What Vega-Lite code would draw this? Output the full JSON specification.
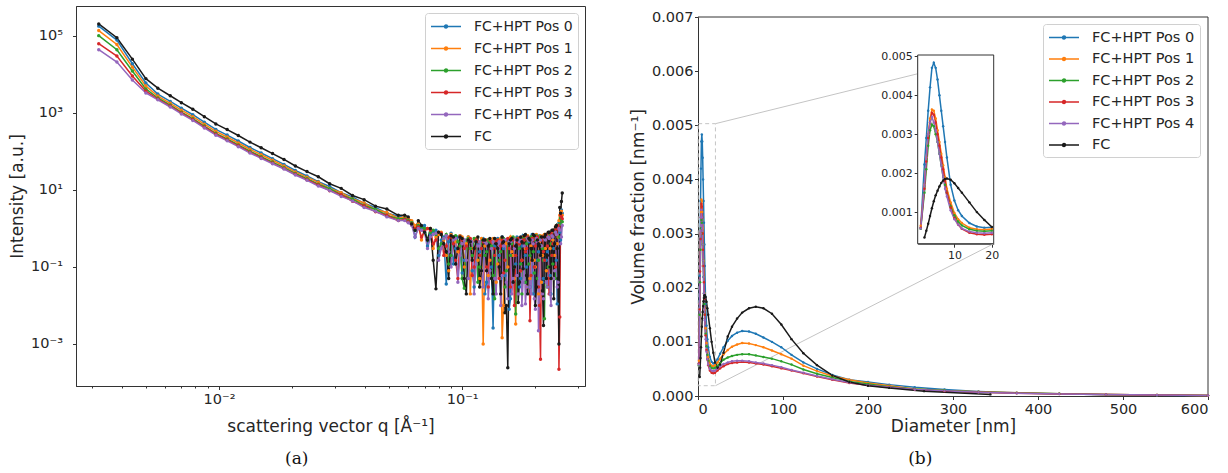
{
"$schema":"https://vega.github.io/schema/vega-lite/v6.json",
"padding":{"left":8,"top":5,"right":5,"bottom":5},
"config":{"font":"DejaVu Sans","view":{"stroke":"#333","strokeWidth":1},
"axis":{"grid":false,"domainColor":"#333","tickColor":"#333","labelColor":"#262626","titleColor":"#262626","labelFontSize":14.5,"titleFontSize":17,"titleFontWeight":"normal","tickSize":3.5,"labelPadding":3},
"title":{"font":"DejaVu Serif","fontSize":17,"fontWeight":"normal","color":"#111"}},
"datasets":{
"saxs":[
{"s":"P0","q":0.0032,"I":180000},{"s":"P0","q":0.0038,"I":78000},{"s":"P0","q":0.0044,"I":19000},{"s":"P0","q":0.005,"I":6000},{"s":"P0","q":0.0056,"I":3100},{"s":"P0","q":0.0063,"I":2000},{"s":"P0","q":0.007,"I":1330},{"s":"P0","q":0.0078,"I":900},{"s":"P0","q":0.0087,"I":576},{"s":"P0","q":0.0097,"I":375},{"s":"P0","q":0.0108,"I":266},{"s":"P0","q":0.012,"I":187},{"s":"P0","q":0.0134,"I":127},{"s":"P0","q":0.0149,"I":91},{"s":"P0","q":0.0166,"I":65},{"s":"P0","q":0.0185,"I":46},{"s":"P0","q":0.0206,"I":32},{"s":"P0","q":0.023,"I":23},{"s":"P0","q":0.0256,"I":16.5},{"s":"P0","q":0.0285,"I":12.3},{"s":"P0","q":0.0318,"I":8.5},{"s":"P0","q":0.0354,"I":6.6},{"s":"P0","q":0.0395,"I":4.5},{"s":"P0","q":0.044,"I":3.5},{"s":"P0","q":0.049,"I":2.5},{"s":"P0","q":0.0546,"I":2.1},
{"s":"P0","q":0.058,"I":1.9},{"s":"P0","q":0.062,"I":1.5},{"s":"P0","q":0.066,"I":1.1},{"s":"P0","q":0.07,"I":1.2},{"s":"P0","q":0.074,"I":0.7},{"s":"P0","q":0.078,"I":0.9},{"s":"P0","q":0.082,"I":0.5},{"s":"P0","q":0.086,"I":0.036},{"s":"P0","q":0.09,"I":0.75},{"s":"P0","q":0.094,"I":0.3},{"s":"P0","q":0.098,"I":0.65},{"s":"P0","q":0.102,"I":0.15},{"s":"P0","q":0.106,"I":0.6},{"s":"P0","q":0.11,"I":0.08},{"s":"P0","q":0.114,"I":0.5},{"s":"P0","q":0.118,"I":0.25},{"s":"P0","q":0.122,"I":0.55},{"s":"P0","q":0.126,"I":0.04},{"s":"P0","q":0.13,"I":0.45},{"s":"P0","q":0.134,"I":0.0026},{"s":"P0","q":0.138,"I":0.5},{"s":"P0","q":0.142,"I":0.2},{"s":"P0","q":0.146,"I":0.6},{"s":"P0","q":0.15,"I":0.06},{"s":"P0","q":0.154,"I":0.4},{"s":"P0","q":0.158,"I":0.015},{"s":"P0","q":0.162,"I":0.55},{"s":"P0","q":0.166,"I":0.12},{"s":"P0","q":0.17,"I":0.5},{"s":"P0","q":0.174,"I":0.05},{"s":"P0","q":0.178,"I":0.65},{"s":"P0","q":0.182,"I":0.2},{"s":"P0","q":0.186,"I":0.6},{"s":"P0","q":0.19,"I":0.03},{"s":"P0","q":0.194,"I":0.7},{"s":"P0","q":0.198,"I":0.1},{"s":"P0","q":0.202,"I":0.55},{"s":"P0","q":0.206,"I":0.25},{"s":"P0","q":0.21,"I":0.6},{"s":"P0","q":0.214,"I":0.04},{"s":"P0","q":0.218,"I":0.7},{"s":"P0","q":0.222,"I":0.15},{"s":"P0","q":0.226,"I":0.75},{"s":"P0","q":0.23,"I":0.06},{"s":"P0","q":0.234,"I":0.8},{"s":"P0","q":0.238,"I":0.3},{"s":"P0","q":0.242,"I":1.0},{"s":"P0","q":0.246,"I":0.011},{"s":"P0","q":0.25,"I":1.4},{"s":"P0","q":0.254,"I":0.5},{"s":"P0","q":0.258,"I":2.5},
{"s":"P0","q":0.06,"I":1.7},{"s":"P0","q":0.064,"I":0.6},{"s":"P0","q":0.068,"I":1.0},{"s":"P0","q":0.072,"I":0.35},{"s":"P0","q":0.076,"I":0.85},{"s":"P0","q":0.08,"I":0.2},{"s":"P0","q":0.084,"I":0.6},{"s":"P0","q":0.088,"I":0.45},{"s":"P0","q":0.092,"I":0.12},{"s":"P0","q":0.096,"I":0.6},{"s":"P0","q":0.1,"I":0.07},{"s":"P0","q":0.104,"I":0.35},{"s":"P0","q":0.108,"I":0.5},{"s":"P0","q":0.112,"I":0.03},{"s":"P0","q":0.116,"I":0.4},{"s":"P0","q":0.12,"I":0.3},{"s":"P0","q":0.124,"I":0.02},{"s":"P0","q":0.128,"I":0.5},{"s":"P0","q":0.132,"I":0.1},{"s":"P0","q":0.136,"I":0.35},{"s":"P0","q":0.14,"I":0.55},{"s":"P0","q":0.144,"I":0.05},{"s":"P0","q":0.148,"I":0.3},{"s":"P0","q":0.152,"I":0.5},{"s":"P0","q":0.156,"I":0.008},{"s":"P0","q":0.16,"I":0.45},{"s":"P0","q":0.164,"I":0.2},{"s":"P0","q":0.168,"I":0.6},{"s":"P0","q":0.172,"I":0.03},{"s":"P0","q":0.176,"I":0.35},{"s":"P0","q":0.18,"I":0.55},{"s":"P0","q":0.184,"I":0.1},{"s":"P0","q":0.188,"I":0.45},{"s":"P0","q":0.192,"I":0.6},{"s":"P0","q":0.196,"I":0.02},{"s":"P0","q":0.2,"I":0.5},{"s":"P0","q":0.204,"I":0.15},{"s":"P0","q":0.208,"I":0.65},{"s":"P0","q":0.212,"I":0.35},{"s":"P0","q":0.216,"I":0.05},{"s":"P0","q":0.22,"I":0.6},{"s":"P0","q":0.224,"I":0.25},{"s":"P0","q":0.228,"I":0.7},{"s":"P0","q":0.232,"I":0.02},{"s":"P0","q":0.236,"I":0.5},{"s":"P0","q":0.24,"I":0.9},{"s":"P0","q":0.244,"I":0.15},{"s":"P0","q":0.248,"I":1.2},{"s":"P0","q":0.252,"I":0.8},{"s":"P0","q":0.256,"I":3.0},
{"s":"P1","q":0.0032,"I":138000},{"s":"P1","q":0.0038,"I":60000},{"s":"P1","q":0.0044,"I":15500},{"s":"P1","q":0.005,"I":5000},{"s":"P1","q":0.0056,"I":2750},{"s":"P1","q":0.0063,"I":1780},{"s":"P1","q":0.007,"I":1180},{"s":"P1","q":0.0078,"I":800},{"s":"P1","q":0.0087,"I":512},{"s":"P1","q":0.0097,"I":333},{"s":"P1","q":0.0108,"I":237},{"s":"P1","q":0.012,"I":166},{"s":"P1","q":0.0134,"I":114},{"s":"P1","q":0.0149,"I":82},{"s":"P1","q":0.0166,"I":59},{"s":"P1","q":0.0185,"I":42},{"s":"P1","q":0.0206,"I":29.5},{"s":"P1","q":0.023,"I":21.5},{"s":"P1","q":0.0256,"I":15.8},{"s":"P1","q":0.0285,"I":11},{"s":"P1","q":0.0318,"I":8.5},{"s":"P1","q":0.0354,"I":5.9},{"s":"P1","q":0.0395,"I":4.6},{"s":"P1","q":0.044,"I":3.1},{"s":"P1","q":0.049,"I":2.6},{"s":"P1","q":0.0546,"I":1.85},
{"s":"P1","q":0.058,"I":2.0},{"s":"P1","q":0.062,"I":1.6},{"s":"P1","q":0.066,"I":1.3},{"s":"P1","q":0.07,"I":0.9},{"s":"P1","q":0.074,"I":1.0},{"s":"P1","q":0.078,"I":0.6},{"s":"P1","q":0.082,"I":0.8},{"s":"P1","q":0.086,"I":0.2},{"s":"P1","q":0.09,"I":0.7},{"s":"P1","q":0.094,"I":0.45},{"s":"P1","q":0.098,"I":0.65},{"s":"P1","q":0.102,"I":0.1},{"s":"P1","q":0.106,"I":0.6},{"s":"P1","q":0.11,"I":0.3},{"s":"P1","q":0.114,"I":0.55},{"s":"P1","q":0.118,"I":0.05},{"s":"P1","q":0.122,"I":0.001},{"s":"P1","q":0.126,"I":0.5},{"s":"P1","q":0.13,"I":0.15},{"s":"P1","q":0.134,"I":0.55},{"s":"P1","q":0.138,"I":0.04},{"s":"P1","q":0.142,"I":0.5},{"s":"P1","q":0.146,"I":0.00145},{"s":"P1","q":0.15,"I":0.45},{"s":"P1","q":0.154,"I":0.1},{"s":"P1","q":0.158,"I":0.6},{"s":"P1","q":0.162,"I":0.2},{"s":"P1","q":0.166,"I":0.0033},{"s":"P1","q":0.17,"I":0.55},{"s":"P1","q":0.174,"I":0.08},{"s":"P1","q":0.178,"I":0.6},{"s":"P1","q":0.182,"I":0.3},{"s":"P1","q":0.186,"I":0.65},{"s":"P1","q":0.19,"I":0.05},{"s":"P1","q":0.194,"I":0.6},{"s":"P1","q":0.198,"I":0.15},{"s":"P1","q":0.202,"I":0.7},{"s":"P1","q":0.206,"I":0.02},{"s":"P1","q":0.21,"I":0.65},{"s":"P1","q":0.214,"I":0.2},{"s":"P1","q":0.218,"I":0.7},{"s":"P1","q":0.222,"I":0.08},{"s":"P1","q":0.226,"I":0.75},{"s":"P1","q":0.23,"I":0.3},{"s":"P1","q":0.234,"I":0.85},{"s":"P1","q":0.238,"I":0.05},{"s":"P1","q":0.242,"I":1.1},{"s":"P1","q":0.246,"I":0.4},{"s":"P1","q":0.25,"I":1.6},{"s":"P1","q":0.254,"I":2.6},{"s":"P1","q":0.258,"I":2.2},
{"s":"P1","q":0.06,"I":1.8},{"s":"P1","q":0.064,"I":1.2},{"s":"P1","q":0.068,"I":0.5},{"s":"P1","q":0.072,"I":1.0},{"s":"P1","q":0.076,"I":0.3},{"s":"P1","q":0.08,"I":0.7},{"s":"P1","q":0.084,"I":0.5},{"s":"P1","q":0.088,"I":0.08},{"s":"P1","q":0.092,"I":0.55},{"s":"P1","q":0.096,"I":0.25},{"s":"P1","q":0.1,"I":0.6},{"s":"P1","q":0.104,"I":0.4},{"s":"P1","q":0.108,"I":0.02},{"s":"P1","q":0.112,"I":0.5},{"s":"P1","q":0.116,"I":0.15},{"s":"P1","q":0.12,"I":0.55},{"s":"P1","q":0.124,"I":0.35},{"s":"P1","q":0.128,"I":0.06},{"s":"P1","q":0.132,"I":0.45},{"s":"P1","q":0.136,"I":0.5},{"s":"P1","q":0.14,"I":0.12},{"s":"P1","q":0.144,"I":0.55},{"s":"P1","q":0.148,"I":0.01},{"s":"P1","q":0.152,"I":0.4},{"s":"P1","q":0.156,"I":0.5},{"s":"P1","q":0.16,"I":0.25},{"s":"P1","q":0.164,"I":0.05},{"s":"P1","q":0.168,"I":0.55},{"s":"P1","q":0.172,"I":0.4},{"s":"P1","q":0.176,"I":0.15},{"s":"P1","q":0.18,"I":0.6},{"s":"P1","q":0.184,"I":0.03},{"s":"P1","q":0.188,"I":0.5},{"s":"P1","q":0.192,"I":0.35},{"s":"P1","q":0.196,"I":0.6},{"s":"P1","q":0.2,"I":0.1},{"s":"P1","q":0.204,"I":0.55},{"s":"P1","q":0.208,"I":0.45},{"s":"P1","q":0.212,"I":0.04},{"s":"P1","q":0.216,"I":0.65},{"s":"P1","q":0.22,"I":0.3},{"s":"P1","q":0.224,"I":0.7},{"s":"P1","q":0.228,"I":0.1},{"s":"P1","q":0.232,"I":0.8},{"s":"P1","q":0.236,"I":0.5},{"s":"P1","q":0.24,"I":0.2},{"s":"P1","q":0.244,"I":1.0},{"s":"P1","q":0.248,"I":0.6},{"s":"P1","q":0.252,"I":2.2},{"s":"P1","q":0.256,"I":2.8},
{"s":"P2","q":0.0032,"I":102000},{"s":"P2","q":0.0038,"I":44000},{"s":"P2","q":0.0044,"I":12300},{"s":"P2","q":0.005,"I":4200},{"s":"P2","q":0.0056,"I":2450},{"s":"P2","q":0.0063,"I":1600},{"s":"P2","q":0.007,"I":1050},{"s":"P2","q":0.0078,"I":710},{"s":"P2","q":0.0087,"I":456},{"s":"P2","q":0.0097,"I":296},{"s":"P2","q":0.0108,"I":211},{"s":"P2","q":0.012,"I":148},{"s":"P2","q":0.0134,"I":102},{"s":"P2","q":0.0149,"I":73},{"s":"P2","q":0.0166,"I":53},{"s":"P2","q":0.0185,"I":38},{"s":"P2","q":0.0206,"I":27},{"s":"P2","q":0.023,"I":19.7},{"s":"P2","q":0.0256,"I":14.1},{"s":"P2","q":0.0285,"I":10.8},{"s":"P2","q":0.0318,"I":7.5},{"s":"P2","q":0.0354,"I":5.8},{"s":"P2","q":0.0395,"I":4.0},{"s":"P2","q":0.044,"I":3.1},{"s":"P2","q":0.049,"I":2.2},{"s":"P2","q":0.0546,"I":1.8},
{"s":"P2","q":0.058,"I":1.8},{"s":"P2","q":0.062,"I":1.4},{"s":"P2","q":0.066,"I":1.2},{"s":"P2","q":0.07,"I":1.0},{"s":"P2","q":0.074,"I":0.8},{"s":"P2","q":0.078,"I":0.7},{"s":"P2","q":0.082,"I":0.4},{"s":"P2","q":0.086,"I":0.7},{"s":"P2","q":0.09,"I":0.2},{"s":"P2","q":0.094,"I":0.65},{"s":"P2","q":0.098,"I":0.35},{"s":"P2","q":0.102,"I":0.028},{"s":"P2","q":0.106,"I":0.55},{"s":"P2","q":0.11,"I":0.2},{"s":"P2","q":0.114,"I":0.5},{"s":"P2","q":0.118,"I":0.1},{"s":"P2","q":0.122,"I":0.5},{"s":"P2","q":0.126,"I":0.25},{"s":"P2","q":0.13,"I":0.45},{"s":"P2","q":0.134,"I":0.06},{"s":"P2","q":0.138,"I":0.5},{"s":"P2","q":0.142,"I":0.15},{"s":"P2","q":0.146,"I":0.55},{"s":"P2","q":0.15,"I":0.03},{"s":"P2","q":0.154,"I":0.5},{"s":"P2","q":0.158,"I":0.2},{"s":"P2","q":0.162,"I":0.6},{"s":"P2","q":0.166,"I":0.006},{"s":"P2","q":0.17,"I":0.5},{"s":"P2","q":0.174,"I":0.12},{"s":"P2","q":0.178,"I":0.55},{"s":"P2","q":0.182,"I":0.04},{"s":"P2","q":0.186,"I":0.6},{"s":"P2","q":0.19,"I":0.2},{"s":"P2","q":0.194,"I":0.55},{"s":"P2","q":0.198,"I":0.07},{"s":"P2","q":0.202,"I":0.65},{"s":"P2","q":0.206,"I":0.15},{"s":"P2","q":0.21,"I":0.6},{"s":"P2","q":0.214,"I":0.3},{"s":"P2","q":0.218,"I":0.0045},{"s":"P2","q":0.222,"I":0.7},{"s":"P2","q":0.226,"I":0.1},{"s":"P2","q":0.23,"I":0.8},{"s":"P2","q":0.234,"I":0.2},{"s":"P2","q":0.238,"I":0.9},{"s":"P2","q":0.242,"I":0.05},{"s":"P2","q":0.246,"I":1.2},{"s":"P2","q":0.25,"I":0.6},{"s":"P2","q":0.254,"I":1.9},{"s":"P2","q":0.258,"I":1.5},
{"s":"P2","q":0.06,"I":1.6},{"s":"P2","q":0.064,"I":0.9},{"s":"P2","q":0.068,"I":1.1},{"s":"P2","q":0.072,"I":0.5},{"s":"P2","q":0.076,"I":0.9},{"s":"P2","q":0.08,"I":0.3},{"s":"P2","q":0.084,"I":0.55},{"s":"P2","q":0.088,"I":0.12},{"s":"P2","q":0.092,"I":0.6},{"s":"P2","q":0.096,"I":0.45},{"s":"P2","q":0.1,"I":0.05},{"s":"P2","q":0.104,"I":0.5},{"s":"P2","q":0.108,"I":0.3},{"s":"P2","q":0.112,"I":0.55},{"s":"P2","q":0.116,"I":0.04},{"s":"P2","q":0.12,"I":0.45},{"s":"P2","q":0.124,"I":0.2},{"s":"P2","q":0.128,"I":0.5},{"s":"P2","q":0.132,"I":0.35},{"s":"P2","q":0.136,"I":0.015},{"s":"P2","q":0.14,"I":0.5},{"s":"P2","q":0.144,"I":0.25},{"s":"P2","q":0.148,"I":0.55},{"s":"P2","q":0.152,"I":0.08},{"s":"P2","q":0.156,"I":0.45},{"s":"P2","q":0.16,"I":0.4},{"s":"P2","q":0.164,"I":0.1},{"s":"P2","q":0.168,"I":0.55},{"s":"P2","q":0.172,"I":0.3},{"s":"P2","q":0.176,"I":0.02},{"s":"P2","q":0.18,"I":0.5},{"s":"P2","q":0.184,"I":0.4},{"s":"P2","q":0.188,"I":0.12},{"s":"P2","q":0.192,"I":0.6},{"s":"P2","q":0.196,"I":0.25},{"s":"P2","q":0.2,"I":0.5},{"s":"P2","q":0.204,"I":0.05},{"s":"P2","q":0.208,"I":0.6},{"s":"P2","q":0.212,"I":0.35},{"s":"P2","q":0.216,"I":0.15},{"s":"P2","q":0.22,"I":0.65},{"s":"P2","q":0.224,"I":0.03},{"s":"P2","q":0.228,"I":0.7},{"s":"P2","q":0.232,"I":0.4},{"s":"P2","q":0.236,"I":0.12},{"s":"P2","q":0.24,"I":0.85},{"s":"P2","q":0.244,"I":0.3},{"s":"P2","q":0.248,"I":1.1},{"s":"P2","q":0.252,"I":1.3},{"s":"P2","q":0.256,"I":1.7},
{"s":"P3","q":0.0032,"I":63000},{"s":"P3","q":0.0038,"I":30000},{"s":"P3","q":0.0044,"I":9100},{"s":"P3","q":0.005,"I":3700},{"s":"P3","q":0.0056,"I":2300},{"s":"P3","q":0.0063,"I":1510},{"s":"P3","q":0.007,"I":1000},{"s":"P3","q":0.0078,"I":675},{"s":"P3","q":0.0087,"I":432},{"s":"P3","q":0.0097,"I":281},{"s":"P3","q":0.0108,"I":200},{"s":"P3","q":0.012,"I":140},{"s":"P3","q":0.0134,"I":96},{"s":"P3","q":0.0149,"I":69},{"s":"P3","q":0.0166,"I":50},{"s":"P3","q":0.0185,"I":36},{"s":"P3","q":0.0206,"I":25.5},{"s":"P3","q":0.023,"I":18.5},{"s":"P3","q":0.0256,"I":13.5},{"s":"P3","q":0.0285,"I":9.6},{"s":"P3","q":0.0318,"I":7.5},{"s":"P3","q":0.0354,"I":5.1},{"s":"P3","q":0.0395,"I":3.9},{"s":"P3","q":0.044,"I":2.7},{"s":"P3","q":0.049,"I":2.2},{"s":"P3","q":0.0546,"I":1.6},
{"s":"P3","q":0.058,"I":1.7},{"s":"P3","q":0.062,"I":1.3},{"s":"P3","q":0.066,"I":1.1},{"s":"P3","q":0.07,"I":0.85},{"s":"P3","q":0.074,"I":0.9},{"s":"P3","q":0.078,"I":0.5},{"s":"P3","q":0.082,"I":0.75},{"s":"P3","q":0.086,"I":0.35},{"s":"P3","q":0.09,"I":0.6},{"s":"P3","q":0.094,"I":0.15},{"s":"P3","q":0.098,"I":0.6},{"s":"P3","q":0.102,"I":0.3},{"s":"P3","q":0.106,"I":0.5},{"s":"P3","q":0.11,"I":0.06},{"s":"P3","q":0.114,"I":0.5},{"s":"P3","q":0.118,"I":0.2},{"s":"P3","q":0.122,"I":0.45},{"s":"P3","q":0.126,"I":0.1},{"s":"P3","q":0.13,"I":0.5},{"s":"P3","q":0.134,"I":0.3},{"s":"P3","q":0.138,"I":0.45},{"s":"P3","q":0.142,"I":0.05},{"s":"P3","q":0.146,"I":0.5},{"s":"P3","q":0.15,"I":0.15},{"s":"P3","q":0.154,"I":0.55},{"s":"P3","q":0.158,"I":0.03},{"s":"P3","q":0.162,"I":0.5},{"s":"P3","q":0.166,"I":0.2},{"s":"P3","q":0.17,"I":0.55},{"s":"P3","q":0.174,"I":0.08},{"s":"P3","q":0.178,"I":0.5},{"s":"P3","q":0.182,"I":0.25},{"s":"P3","q":0.186,"I":0.6},{"s":"P3","q":0.19,"I":0.004},{"s":"P3","q":0.194,"I":0.55},{"s":"P3","q":0.198,"I":0.1},{"s":"P3","q":0.202,"I":0.6},{"s":"P3","q":0.206,"I":0.03},{"s":"P3","q":0.21,"I":0.0004},{"s":"P3","q":0.214,"I":0.6},{"s":"P3","q":0.218,"I":0.15},{"s":"P3","q":0.222,"I":0.7},{"s":"P3","q":0.226,"I":0.05},{"s":"P3","q":0.23,"I":0.75},{"s":"P3","q":0.234,"I":0.2},{"s":"P3","q":0.238,"I":0.9},{"s":"P3","q":0.242,"I":0.1},{"s":"P3","q":0.246,"I":1.0},{"s":"P3","q":0.25,"I":0.00022},{"s":"P3","q":0.254,"I":2.2},{"s":"P3","q":0.258,"I":1.8},
{"s":"P3","q":0.06,"I":1.5},{"s":"P3","q":0.064,"I":1.0},{"s":"P3","q":0.068,"I":0.6},{"s":"P3","q":0.072,"I":1.0},{"s":"P3","q":0.076,"I":0.4},{"s":"P3","q":0.08,"I":0.8},{"s":"P3","q":0.084,"I":0.2},{"s":"P3","q":0.088,"I":0.6},{"s":"P3","q":0.092,"I":0.4},{"s":"P3","q":0.096,"I":0.05},{"s":"P3","q":0.1,"I":0.5},{"s":"P3","q":0.104,"I":0.35},{"s":"P3","q":0.108,"I":0.55},{"s":"P3","q":0.112,"I":0.1},{"s":"P3","q":0.116,"I":0.45},{"s":"P3","q":0.12,"I":0.3},{"s":"P3","q":0.124,"I":0.5},{"s":"P3","q":0.128,"I":0.03},{"s":"P3","q":0.132,"I":0.45},{"s":"P3","q":0.136,"I":0.2},{"s":"P3","q":0.14,"I":0.5},{"s":"P3","q":0.144,"I":0.35},{"s":"P3","q":0.148,"I":0.07},{"s":"P3","q":0.152,"I":0.5},{"s":"P3","q":0.156,"I":0.3},{"s":"P3","q":0.16,"I":0.55},{"s":"P3","q":0.164,"I":0.01},{"s":"P3","q":0.168,"I":0.45},{"s":"P3","q":0.172,"I":0.4},{"s":"P3","q":0.176,"I":0.15},{"s":"P3","q":0.18,"I":0.5},{"s":"P3","q":0.184,"I":0.3},{"s":"P3","q":0.188,"I":0.55},{"s":"P3","q":0.192,"I":0.06},{"s":"P3","q":0.196,"I":0.5},{"s":"P3","q":0.2,"I":0.35},{"s":"P3","q":0.204,"I":0.6},{"s":"P3","q":0.208,"I":0.01},{"s":"P3","q":0.212,"I":0.5},{"s":"P3","q":0.216,"I":0.25},{"s":"P3","q":0.22,"I":0.65},{"s":"P3","q":0.224,"I":0.35},{"s":"P3","q":0.228,"I":0.02},{"s":"P3","q":0.232,"I":0.75},{"s":"P3","q":0.236,"I":0.4},{"s":"P3","q":0.24,"I":0.9},{"s":"P3","q":0.244,"I":0.3},{"s":"P3","q":0.248,"I":1.2},{"s":"P3","q":0.252,"I":0.005},{"s":"P3","q":0.256,"I":2.0},
{"s":"P4","q":0.0032,"I":44000},{"s":"P4","q":0.0038,"I":21000},{"s":"P4","q":0.0044,"I":7200},{"s":"P4","q":0.005,"I":3300},{"s":"P4","q":0.0056,"I":2200},{"s":"P4","q":0.0063,"I":1430},{"s":"P4","q":0.007,"I":945},{"s":"P4","q":0.0078,"I":640},{"s":"P4","q":0.0087,"I":408},{"s":"P4","q":0.0097,"I":265},{"s":"P4","q":0.0108,"I":189},{"s":"P4","q":0.012,"I":133},{"s":"P4","q":0.0134,"I":91},{"s":"P4","q":0.0149,"I":66},{"s":"P4","q":0.0166,"I":48},{"s":"P4","q":0.0185,"I":35},{"s":"P4","q":0.0206,"I":24.5},{"s":"P4","q":0.023,"I":17.8},{"s":"P4","q":0.0256,"I":12.7},{"s":"P4","q":0.0285,"I":9.7},{"s":"P4","q":0.0318,"I":6.8},{"s":"P4","q":0.0354,"I":5.2},{"s":"P4","q":0.0395,"I":3.5},{"s":"P4","q":0.044,"I":2.8},{"s":"P4","q":0.049,"I":2.0},{"s":"P4","q":0.0546,"I":1.6},
{"s":"P4","q":0.058,"I":1.6},{"s":"P4","q":0.062,"I":1.2},{"s":"P4","q":0.066,"I":1.0},{"s":"P4","q":0.07,"I":0.8},{"s":"P4","q":0.074,"I":0.6},{"s":"P4","q":0.078,"I":0.75},{"s":"P4","q":0.082,"I":0.3},{"s":"P4","q":0.086,"I":0.65},{"s":"P4","q":0.09,"I":0.1},{"s":"P4","q":0.094,"I":0.55},{"s":"P4","q":0.098,"I":0.2},{"s":"P4","q":0.102,"I":0.5},{"s":"P4","q":0.106,"I":0.05},{"s":"P4","q":0.11,"I":0.45},{"s":"P4","q":0.114,"I":0.12},{"s":"P4","q":0.118,"I":0.45},{"s":"P4","q":0.122,"I":0.03},{"s":"P4","q":0.126,"I":0.4},{"s":"P4","q":0.13,"I":0.08},{"s":"P4","q":0.134,"I":0.45},{"s":"P4","q":0.138,"I":0.02},{"s":"P4","q":0.142,"I":0.45},{"s":"P4","q":0.146,"I":0.06},{"s":"P4","q":0.15,"I":0.5},{"s":"P4","q":0.154,"I":0.015},{"s":"P4","q":0.158,"I":0.45},{"s":"P4","q":0.162,"I":0.05},{"s":"P4","q":0.166,"I":0.5},{"s":"P4","q":0.17,"I":0.02},{"s":"P4","q":0.174,"I":0.5},{"s":"P4","q":0.178,"I":0.04},{"s":"P4","q":0.182,"I":0.011},{"s":"P4","q":0.186,"I":0.55},{"s":"P4","q":0.19,"I":0.03},{"s":"P4","q":0.194,"I":0.5},{"s":"P4","q":0.198,"I":0.015},{"s":"P4","q":0.202,"I":0.55},{"s":"P4","q":0.206,"I":0.0022},{"s":"P4","q":0.21,"I":0.5},{"s":"P4","q":0.214,"I":0.02},{"s":"P4","q":0.218,"I":0.55},{"s":"P4","q":0.222,"I":0.04},{"s":"P4","q":0.226,"I":0.6},{"s":"P4","q":0.23,"I":0.02},{"s":"P4","q":0.234,"I":0.65},{"s":"P4","q":0.238,"I":0.05},{"s":"P4","q":0.242,"I":0.8},{"s":"P4","q":0.246,"I":0.03},{"s":"P4","q":0.25,"I":1.0},{"s":"P4","q":0.254,"I":0.4},{"s":"P4","q":0.258,"I":1.2},
{"s":"P4","q":0.06,"I":1.4},{"s":"P4","q":0.064,"I":0.6},{"s":"P4","q":0.068,"I":0.9},{"s":"P4","q":0.072,"I":0.3},{"s":"P4","q":0.076,"I":0.7},{"s":"P4","q":0.08,"I":0.15},{"s":"P4","q":0.084,"I":0.55},{"s":"P4","q":0.088,"I":0.25},{"s":"P4","q":0.092,"I":0.5},{"s":"P4","q":0.096,"I":0.04},{"s":"P4","q":0.1,"I":0.4},{"s":"P4","q":0.104,"I":0.15},{"s":"P4","q":0.108,"I":0.45},{"s":"P4","q":0.112,"I":0.02},{"s":"P4","q":0.116,"I":0.35},{"s":"P4","q":0.12,"I":0.08},{"s":"P4","q":0.124,"I":0.45},{"s":"P4","q":0.128,"I":0.015},{"s":"P4","q":0.132,"I":0.3},{"s":"P4","q":0.136,"I":0.05},{"s":"P4","q":0.14,"I":0.4},{"s":"P4","q":0.144,"I":0.01},{"s":"P4","q":0.148,"I":0.35},{"s":"P4","q":0.152,"I":0.04},{"s":"P4","q":0.156,"I":0.45},{"s":"P4","q":0.16,"I":0.02},{"s":"P4","q":0.164,"I":0.3},{"s":"P4","q":0.168,"I":0.06},{"s":"P4","q":0.172,"I":0.45},{"s":"P4","q":0.176,"I":0.01},{"s":"P4","q":0.18,"I":0.35},{"s":"P4","q":0.184,"I":0.03},{"s":"P4","q":0.188,"I":0.5},{"s":"P4","q":0.192,"I":0.02},{"s":"P4","q":0.196,"I":0.4},{"s":"P4","q":0.2,"I":0.008},{"s":"P4","q":0.204,"I":0.45},{"s":"P4","q":0.208,"I":0.05},{"s":"P4","q":0.212,"I":0.35},{"s":"P4","q":0.216,"I":0.015},{"s":"P4","q":0.22,"I":0.5},{"s":"P4","q":0.224,"I":0.03},{"s":"P4","q":0.228,"I":0.55},{"s":"P4","q":0.232,"I":0.01},{"s":"P4","q":0.236,"I":0.6},{"s":"P4","q":0.24,"I":0.08},{"s":"P4","q":0.244,"I":0.7},{"s":"P4","q":0.248,"I":0.04},{"s":"P4","q":0.252,"I":0.9},{"s":"P4","q":0.256,"I":0.6},
{"s":"FC","q":0.0032,"I":205000},{"s":"FC","q":0.0038,"I":90000},{"s":"FC","q":0.0044,"I":25000},{"s":"FC","q":0.005,"I":7800},{"s":"FC","q":0.0056,"I":4400},{"s":"FC","q":0.0063,"I":2800},{"s":"FC","q":0.007,"I":1850},{"s":"FC","q":0.0078,"I":1250},{"s":"FC","q":0.0087,"I":800},{"s":"FC","q":0.0097,"I":520},{"s":"FC","q":0.0108,"I":370},{"s":"FC","q":0.012,"I":260},{"s":"FC","q":0.0134,"I":175},{"s":"FC","q":0.0149,"I":125},{"s":"FC","q":0.0166,"I":88},{"s":"FC","q":0.0185,"I":62},{"s":"FC","q":0.0206,"I":42},{"s":"FC","q":0.023,"I":30},{"s":"FC","q":0.0256,"I":22},{"s":"FC","q":0.0285,"I":14.5},{"s":"FC","q":0.0318,"I":11},{"s":"FC","q":0.0354,"I":7.2},{"s":"FC","q":0.0395,"I":5.6},{"s":"FC","q":0.044,"I":3.8},{"s":"FC","q":0.049,"I":3.2},{"s":"FC","q":0.0546,"I":2.2},
{"s":"FC","q":0.058,"I":2.2},{"s":"FC","q":0.062,"I":1.3},{"s":"FC","q":0.066,"I":1.6},{"s":"FC","q":0.07,"I":0.8},{"s":"FC","q":0.074,"I":1.0},{"s":"FC","q":0.078,"I":0.027},{"s":"FC","q":0.082,"I":0.7},{"s":"FC","q":0.086,"I":0.25},{"s":"FC","q":0.09,"I":0.65},{"s":"FC","q":0.094,"I":0.12},{"s":"FC","q":0.098,"I":0.6},{"s":"FC","q":0.102,"I":0.05},{"s":"FC","q":0.106,"I":0.5},{"s":"FC","q":0.11,"I":0.15},{"s":"FC","q":0.114,"I":0.45},{"s":"FC","q":0.118,"I":0.03},{"s":"FC","q":0.122,"I":0.5},{"s":"FC","q":0.126,"I":0.08},{"s":"FC","q":0.13,"I":0.55},{"s":"FC","q":0.134,"I":0.02},{"s":"FC","q":0.138,"I":0.4},{"s":"FC","q":0.142,"I":0.1},{"s":"FC","q":0.146,"I":0.6},{"s":"FC","q":0.15,"I":0.0065},{"s":"FC","q":0.154,"I":0.00024},{"s":"FC","q":0.158,"I":0.5},{"s":"FC","q":0.162,"I":0.04},{"s":"FC","q":0.166,"I":0.35},{"s":"FC","q":0.17,"I":0.012},{"s":"FC","q":0.174,"I":0.6},{"s":"FC","q":0.178,"I":0.09},{"s":"FC","q":0.182,"I":0.7},{"s":"FC","q":0.186,"I":0.02},{"s":"FC","q":0.19,"I":0.5},{"s":"FC","q":0.194,"I":0.15},{"s":"FC","q":0.198,"I":0.65},{"s":"FC","q":0.202,"I":0.03},{"s":"FC","q":0.206,"I":0.4},{"s":"FC","q":0.21,"I":0.2},{"s":"FC","q":0.214,"I":0.024},{"s":"FC","q":0.218,"I":0.6},{"s":"FC","q":0.222,"I":0.05},{"s":"FC","q":0.226,"I":0.8},{"s":"FC","q":0.23,"I":0.1},{"s":"FC","q":0.234,"I":0.9},{"s":"FC","q":0.238,"I":0.015},{"s":"FC","q":0.242,"I":1.1},{"s":"FC","q":0.246,"I":0.3},{"s":"FC","q":0.25,"I":0.001},{"s":"FC","q":0.254,"I":2.5},{"s":"FC","q":0.258,"I":8.3},
{"s":"FC","q":0.06,"I":2.0},{"s":"FC","q":0.064,"I":0.9},{"s":"FC","q":0.068,"I":1.2},{"s":"FC","q":0.072,"I":0.5},{"s":"FC","q":0.076,"I":0.15},{"s":"FC","q":0.08,"I":0.8},{"s":"FC","q":0.084,"I":0.4},{"s":"FC","q":0.088,"I":0.05},{"s":"FC","q":0.092,"I":0.6},{"s":"FC","q":0.096,"I":0.3},{"s":"FC","q":0.1,"I":0.55},{"s":"FC","q":0.104,"I":0.02},{"s":"FC","q":0.108,"I":0.45},{"s":"FC","q":0.112,"I":0.3},{"s":"FC","q":0.116,"I":0.6},{"s":"FC","q":0.12,"I":0.08},{"s":"FC","q":0.124,"I":0.5},{"s":"FC","q":0.128,"I":0.35},{"s":"FC","q":0.132,"I":0.05},{"s":"FC","q":0.136,"I":0.55},{"s":"FC","q":0.14,"I":0.3},{"s":"FC","q":0.144,"I":0.02},{"s":"FC","q":0.148,"I":0.45},{"s":"FC","q":0.152,"I":0.01},{"s":"FC","q":0.156,"I":0.4},{"s":"FC","q":0.16,"I":0.55},{"s":"FC","q":0.164,"I":0.1},{"s":"FC","q":0.168,"I":0.5},{"s":"FC","q":0.172,"I":0.04},{"s":"FC","q":0.176,"I":0.45},{"s":"FC","q":0.18,"I":0.65},{"s":"FC","q":0.184,"I":0.06},{"s":"FC","q":0.188,"I":0.55},{"s":"FC","q":0.192,"I":0.3},{"s":"FC","q":0.196,"I":0.7},{"s":"FC","q":0.2,"I":0.01},{"s":"FC","q":0.204,"I":0.5},{"s":"FC","q":0.208,"I":0.35},{"s":"FC","q":0.212,"I":0.6},{"s":"FC","q":0.216,"I":0.003},{"s":"FC","q":0.22,"I":0.7},{"s":"FC","q":0.224,"I":0.2},{"s":"FC","q":0.228,"I":0.8},{"s":"FC","q":0.232,"I":0.05},{"s":"FC","q":0.236,"I":0.9},{"s":"FC","q":0.24,"I":0.4},{"s":"FC","q":0.244,"I":1.2},{"s":"FC","q":0.248,"I":0.05},{"s":"FC","q":0.252,"I":3.5},{"s":"FC","q":0.256,"I":5.0}
],
"vol":[
{"s":"P0","d":1,"v":0.0006},{"s":"P0","d":2,"v":0.00222},{"s":"P0","d":2.5,"v":0.0029},{"s":"P0","d":3,"v":0.0036},{"s":"P0","d":3.5,"v":0.0042},{"s":"P0","d":4,"v":0.0047},{"s":"P0","d":4.5,"v":0.00483},{"s":"P0","d":5,"v":0.0047},{"s":"P0","d":5.5,"v":0.0044},{"s":"P0","d":6,"v":0.004},{"s":"P0","d":6.5,"v":0.0036},{"s":"P0","d":7,"v":0.0032},{"s":"P0","d":7.5,"v":0.0028},{"s":"P0","d":8,"v":0.0024},{"s":"P0","d":9,"v":0.0017},{"s":"P0","d":10,"v":0.0013},{"s":"P0","d":11,"v":0.00105},{"s":"P0","d":12,"v":0.0009},{"s":"P0","d":14,"v":0.00072},{"s":"P0","d":16,"v":0.00063},{"s":"P0","d":18,"v":0.0006},{"s":"P0","d":20,"v":0.00061},{"s":"P0","d":23,"v":0.00068},{"s":"P0","d":26,"v":0.00078},{"s":"P0","d":30,"v":0.0009},{"s":"P0","d":35,"v":0.00102},{"s":"P0","d":40,"v":0.00111},{"s":"P0","d":46,"v":0.00117},{"s":"P0","d":52,"v":0.0012},{"s":"P0","d":60,"v":0.00119},{"s":"P0","d":68,"v":0.00115},{"s":"P0","d":77,"v":0.00108},{"s":"P0","d":87,"v":0.001},{"s":"P0","d":98,"v":0.0009},{"s":"P0","d":110,"v":0.00076},{"s":"P0","d":124,"v":0.00062},{"s":"P0","d":140,"v":0.0005},{"s":"P0","d":158,"v":0.00039},{"s":"P0","d":178,"v":0.0003},{"s":"P0","d":200,"v":0.00026},{"s":"P0","d":225,"v":0.00021},{"s":"P0","d":255,"v":0.00016},{"s":"P0","d":290,"v":0.00012},{"s":"P0","d":330,"v":0.000085},{"s":"P0","d":375,"v":0.00006},{"s":"P0","d":425,"v":0.00004},{"s":"P0","d":480,"v":0.000025},{"s":"P0","d":540,"v":0.000015},{"s":"P0","d":600,"v":0.00001},
{"s":"P1","d":1,"v":0.00065},{"s":"P1","d":2,"v":0.0017},{"s":"P1","d":2.5,"v":0.0024},{"s":"P1","d":3,"v":0.003},{"s":"P1","d":3.5,"v":0.0034},{"s":"P1","d":4,"v":0.00363},{"s":"P1","d":4.5,"v":0.0036},{"s":"P1","d":5,"v":0.0034},{"s":"P1","d":5.5,"v":0.0031},{"s":"P1","d":6,"v":0.0028},{"s":"P1","d":6.5,"v":0.0025},{"s":"P1","d":7,"v":0.0022},{"s":"P1","d":7.5,"v":0.0019},{"s":"P1","d":8,"v":0.0016},{"s":"P1","d":9,"v":0.00125},{"s":"P1","d":10,"v":0.00098},{"s":"P1","d":11,"v":0.00082},{"s":"P1","d":12,"v":0.00072},{"s":"P1","d":14,"v":0.0006},{"s":"P1","d":16,"v":0.00056},{"s":"P1","d":18,"v":0.00055},{"s":"P1","d":20,"v":0.00057},{"s":"P1","d":23,"v":0.00062},{"s":"P1","d":26,"v":0.00069},{"s":"P1","d":30,"v":0.00077},{"s":"P1","d":35,"v":0.00085},{"s":"P1","d":40,"v":0.00091},{"s":"P1","d":46,"v":0.00095},{"s":"P1","d":52,"v":0.00098},{"s":"P1","d":60,"v":0.00097},{"s":"P1","d":68,"v":0.00094},{"s":"P1","d":77,"v":0.0009},{"s":"P1","d":87,"v":0.00084},{"s":"P1","d":98,"v":0.00077},{"s":"P1","d":110,"v":0.00069},{"s":"P1","d":124,"v":0.00056},{"s":"P1","d":140,"v":0.00046},{"s":"P1","d":158,"v":0.00037},{"s":"P1","d":178,"v":0.0003},{"s":"P1","d":200,"v":0.00024},{"s":"P1","d":225,"v":0.00019},{"s":"P1","d":255,"v":0.00013},{"s":"P1","d":290,"v":0.0001},{"s":"P1","d":330,"v":0.00008},{"s":"P1","d":375,"v":0.00006},{"s":"P1","d":425,"v":0.00004},{"s":"P1","d":480,"v":0.000028},{"s":"P1","d":540,"v":0.000018},{"s":"P1","d":600,"v":0.00001},
{"s":"P2","d":1,"v":0.00057},{"s":"P2","d":2,"v":0.0015},{"s":"P2","d":2.5,"v":0.0021},{"s":"P2","d":3,"v":0.0027},{"s":"P2","d":3.5,"v":0.0031},{"s":"P2","d":4,"v":0.00325},{"s":"P2","d":4.5,"v":0.0032},{"s":"P2","d":5,"v":0.003},{"s":"P2","d":5.5,"v":0.0028},{"s":"P2","d":6,"v":0.0025},{"s":"P2","d":6.5,"v":0.0022},{"s":"P2","d":7,"v":0.0019},{"s":"P2","d":7.5,"v":0.0017},{"s":"P2","d":8,"v":0.0015},{"s":"P2","d":9,"v":0.00115},{"s":"P2","d":10,"v":0.00092},{"s":"P2","d":11,"v":0.00076},{"s":"P2","d":12,"v":0.00066},{"s":"P2","d":14,"v":0.00056},{"s":"P2","d":16,"v":0.00052},{"s":"P2","d":18,"v":0.00051},{"s":"P2","d":20,"v":0.00052},{"s":"P2","d":23,"v":0.00056},{"s":"P2","d":26,"v":0.00061},{"s":"P2","d":30,"v":0.00067},{"s":"P2","d":35,"v":0.00071},{"s":"P2","d":40,"v":0.00074},{"s":"P2","d":46,"v":0.00076},{"s":"P2","d":52,"v":0.00077},{"s":"P2","d":60,"v":0.00077},{"s":"P2","d":68,"v":0.00075},{"s":"P2","d":77,"v":0.00072},{"s":"P2","d":87,"v":0.00069},{"s":"P2","d":98,"v":0.00064},{"s":"P2","d":110,"v":0.00058},{"s":"P2","d":124,"v":0.00049},{"s":"P2","d":140,"v":0.00041},{"s":"P2","d":158,"v":0.00034},{"s":"P2","d":178,"v":0.00027},{"s":"P2","d":200,"v":0.00022},{"s":"P2","d":225,"v":0.00017},{"s":"P2","d":255,"v":0.00013},{"s":"P2","d":290,"v":0.0001},{"s":"P2","d":330,"v":0.000075},{"s":"P2","d":375,"v":0.000055},{"s":"P2","d":425,"v":0.00004},{"s":"P2","d":480,"v":0.000028},{"s":"P2","d":540,"v":0.000018},{"s":"P2","d":600,"v":0.00001},
{"s":"P3","d":1,"v":0.0006},{"s":"P3","d":2,"v":0.0016},{"s":"P3","d":2.5,"v":0.0023},{"s":"P3","d":3,"v":0.0029},{"s":"P3","d":3.5,"v":0.0033},{"s":"P3","d":4,"v":0.00355},{"s":"P3","d":4.5,"v":0.0035},{"s":"P3","d":5,"v":0.0033},{"s":"P3","d":5.5,"v":0.003},{"s":"P3","d":6,"v":0.0027},{"s":"P3","d":6.5,"v":0.0024},{"s":"P3","d":7,"v":0.0021},{"s":"P3","d":7.5,"v":0.0018},{"s":"P3","d":8,"v":0.0015},{"s":"P3","d":9,"v":0.00112},{"s":"P3","d":10,"v":0.00085},{"s":"P3","d":11,"v":0.00068},{"s":"P3","d":12,"v":0.00057},{"s":"P3","d":14,"v":0.00047},{"s":"P3","d":16,"v":0.00043},{"s":"P3","d":18,"v":0.00042},{"s":"P3","d":20,"v":0.00043},{"s":"P3","d":23,"v":0.00047},{"s":"P3","d":26,"v":0.00051},{"s":"P3","d":30,"v":0.00055},{"s":"P3","d":35,"v":0.00059},{"s":"P3","d":40,"v":0.00061},{"s":"P3","d":46,"v":0.00062},{"s":"P3","d":52,"v":0.00063},{"s":"P3","d":60,"v":0.00062},{"s":"P3","d":68,"v":0.0006},{"s":"P3","d":77,"v":0.00058},{"s":"P3","d":87,"v":0.00055},{"s":"P3","d":98,"v":0.00051},{"s":"P3","d":110,"v":0.00047},{"s":"P3","d":124,"v":0.00042},{"s":"P3","d":140,"v":0.00036},{"s":"P3","d":158,"v":0.0003},{"s":"P3","d":178,"v":0.00024},{"s":"P3","d":200,"v":0.0002},{"s":"P3","d":225,"v":0.00016},{"s":"P3","d":255,"v":0.00012},{"s":"P3","d":290,"v":0.00009},{"s":"P3","d":330,"v":0.00007},{"s":"P3","d":375,"v":0.00005},{"s":"P3","d":425,"v":0.000037},{"s":"P3","d":480,"v":0.000026},{"s":"P3","d":540,"v":0.000017},{"s":"P3","d":600,"v":0.00001},
{"s":"P4","d":1,"v":0.00058},{"s":"P4","d":2,"v":0.0017},{"s":"P4","d":2.5,"v":0.0024},{"s":"P4","d":3,"v":0.003},{"s":"P4","d":3.5,"v":0.0033},{"s":"P4","d":4,"v":0.00344},{"s":"P4","d":4.5,"v":0.0033},{"s":"P4","d":5,"v":0.0031},{"s":"P4","d":5.5,"v":0.0028},{"s":"P4","d":6,"v":0.0025},{"s":"P4","d":6.5,"v":0.0022},{"s":"P4","d":7,"v":0.0019},{"s":"P4","d":7.5,"v":0.0016},{"s":"P4","d":8,"v":0.0014},{"s":"P4","d":9,"v":0.00105},{"s":"P4","d":10,"v":0.00082},{"s":"P4","d":11,"v":0.00068},{"s":"P4","d":12,"v":0.00058},{"s":"P4","d":14,"v":0.0005},{"s":"P4","d":16,"v":0.00047},{"s":"P4","d":18,"v":0.00046},{"s":"P4","d":20,"v":0.00047},{"s":"P4","d":23,"v":0.00051},{"s":"P4","d":26,"v":0.00055},{"s":"P4","d":30,"v":0.00059},{"s":"P4","d":35,"v":0.00062},{"s":"P4","d":40,"v":0.00064},{"s":"P4","d":46,"v":0.00065},{"s":"P4","d":52,"v":0.00065},{"s":"P4","d":60,"v":0.00064},{"s":"P4","d":68,"v":0.00062},{"s":"P4","d":77,"v":0.0006},{"s":"P4","d":87,"v":0.00057},{"s":"P4","d":98,"v":0.00053},{"s":"P4","d":110,"v":0.00048},{"s":"P4","d":124,"v":0.00043},{"s":"P4","d":140,"v":0.00037},{"s":"P4","d":158,"v":0.00031},{"s":"P4","d":178,"v":0.00025},{"s":"P4","d":200,"v":0.0002},{"s":"P4","d":225,"v":0.00016},{"s":"P4","d":255,"v":0.00012},{"s":"P4","d":290,"v":0.000095},{"s":"P4","d":330,"v":0.00007},{"s":"P4","d":375,"v":0.00005},{"s":"P4","d":425,"v":0.000037},{"s":"P4","d":480,"v":0.000026},{"s":"P4","d":540,"v":0.000017},{"s":"P4","d":600,"v":0.00001},
{"s":"FC","d":2,"v":0.00035},{"s":"FC","d":2.5,"v":0.00052},{"s":"FC","d":3,"v":0.0007},{"s":"FC","d":3.5,"v":0.0009},{"s":"FC","d":4,"v":0.0011},{"s":"FC","d":4.5,"v":0.00128},{"s":"FC","d":5,"v":0.00143},{"s":"FC","d":5.5,"v":0.00155},{"s":"FC","d":6,"v":0.00166},{"s":"FC","d":6.5,"v":0.00175},{"s":"FC","d":7,"v":0.00181},{"s":"FC","d":7.5,"v":0.00185},{"s":"FC","d":8,"v":0.00186},{"s":"FC","d":9,"v":0.00183},{"s":"FC","d":10,"v":0.00174},{"s":"FC","d":11,"v":0.00162},{"s":"FC","d":12,"v":0.0015},{"s":"FC","d":14,"v":0.00125},{"s":"FC","d":16,"v":0.001},{"s":"FC","d":18,"v":0.0008},{"s":"FC","d":20,"v":0.00062},{"s":"FC","d":23,"v":0.00052},{"s":"FC","d":26,"v":0.00058},{"s":"FC","d":30,"v":0.0008},{"s":"FC","d":35,"v":0.0011},{"s":"FC","d":40,"v":0.00128},{"s":"FC","d":46,"v":0.00143},{"s":"FC","d":52,"v":0.00154},{"s":"FC","d":60,"v":0.00162},{"s":"FC","d":68,"v":0.00165},{"s":"FC","d":77,"v":0.00162},{"s":"FC","d":87,"v":0.00152},{"s":"FC","d":98,"v":0.00132},{"s":"FC","d":110,"v":0.00105},{"s":"FC","d":124,"v":0.00079},{"s":"FC","d":140,"v":0.00057},{"s":"FC","d":158,"v":0.00038},{"s":"FC","d":178,"v":0.00026},{"s":"FC","d":200,"v":0.00019},{"s":"FC","d":225,"v":0.00015},{"s":"FC","d":266,"v":0.00009},{"s":"FC","d":344,"v":0.00003}
]},
"spacing":43,
"resolve":{"scale":{"color":"independent"},"legend":{"color":"independent"}},
"hconcat":[
{"width":509,"height":380,
"title":{"text":"(a)","orient":"bottom","anchor":"middle","frame":"bounds","offset":17},
"data":{"name":"saxs"},
"mark":{"type":"line","strokeWidth":1.5,"point":{"filled":true,"size":12}},
"encoding":{
"x":{"field":"q","type":"quantitative","scale":{"type":"log","domain":[0.00258,0.32],"nice":false},
"axis":{"title":"scattering vector q [Å⁻¹]","orient":"bottom","titlePadding":12,"values":[0.003,0.004,0.005,0.006,0.007,0.008,0.009,0.01,0.02,0.03,0.04,0.05,0.06,0.07,0.08,0.09,0.1,0.2,0.3],
"labelExpr":"abs(datum.value-0.01)<1e-9 ? '10⁻²' : (abs(datum.value-0.1)<1e-9 ? '10⁻¹' : '')",
"tickSize":{"condition":{"test":"abs(datum.value-0.01)<1e-9 || abs(datum.value-0.1)<1e-9","value":3.5},"value":2}}},
"y":{"field":"I","type":"quantitative","scale":{"type":"log","domain":[8.1e-5,600000],"nice":false},
"axis":{"title":"Intensity [a.u.]","orient":"left","labelPadding":10,"values":[100000,1000,10,0.1,0.001],
"labelExpr":"datum.value > 50000 ? '10⁵' : datum.value > 500 ? '10³' : datum.value > 5 ? '10¹' : datum.value > 0.05 ? '10⁻¹' : '10⁻³'"}},
"color":{"field":"s","type":"nominal","scale":{"domain":["P0","P1","P2","P3","P4","FC"],"range":["#1f77b4","#ff7f0e","#2ca02c","#d62728","#9467bd","#1a1a1a"]},
"legend":{"title":null,"orient":"top-right","offset":7,"padding":5,"fillColor":"#ffffff","strokeColor":"#d0d0d0","cornerRadius":3,"labelFontSize":14,"labelColor":"#262626","symbolType":"M-1,0H3M0.8,0A0.2,0.2,0,1,1,1.2,0A0.2,0.2,0,1,1,0.8,0","symbolSize":225,"symbolStrokeWidth":1.5,"labelOffset":27,"rowPadding":6,"labelLimit":300,
"labelExpr":"datum.label == 'FC' ? 'FC' : 'FC+HPT Pos ' + substring(datum.label, 1)"}}
}},
{"width":510,"height":390,
"view":{"stroke":null},
"title":{"text":"(b)","orient":"bottom","anchor":"middle","frame":"bounds","offset":17},
"layer":[
{"data":{"values":[{}]},"mark":{"type":"rule","color":"#333","strokeWidth":1},
"encoding":{"x":{"datum":0,"type":"quantitative","scale":{"domain":[0,600],"nice":false},"axis":null},"x2":{"datum":600},
"y":{"datum":0.007,"type":"quantitative","scale":{"domain":[0,0.007],"range":[390,11],"nice":false},"axis":null}}},
{"data":{"values":[{}]},"mark":{"type":"rule","color":"#333","strokeWidth":1},
"encoding":{"x":{"datum":600,"type":"quantitative","scale":{"domain":[0,600],"nice":false},"axis":null},
"y":{"datum":0,"type":"quantitative","scale":{"domain":[0,0.007],"range":[390,11],"nice":false},"axis":null},"y2":{"datum":0.007}}},
{"data":{"values":[{}]},"mark":{"type":"rect","fillOpacity":0,"stroke":"#c4c4c4","strokeDash":[4,3],"strokeWidth":1},
"encoding":{"x":{"datum":0.2,"type":"quantitative","scale":{"domain":[0,600],"nice":false},"axis":null},"x2":{"datum":20.5},
"y":{"datum":0.00019,"type":"quantitative","scale":{"domain":[0,0.007],"range":[390,11],"nice":false},"axis":null},"y2":{"datum":0.00503}}},
{"data":{"values":[{}]},"mark":{"type":"rule","color":"#c4c4c4","strokeWidth":1},
"encoding":{"x":{"datum":20.5,"type":"quantitative","scale":{"domain":[0,600],"nice":false},"axis":null},"x2":{"datum":347.9},
"y":{"datum":0.00503,"type":"quantitative","scale":{"domain":[0,0.007],"range":[390,11],"nice":false},"axis":null},"y2":{"datum":0.006298}}},
{"data":{"values":[{}]},"mark":{"type":"rule","color":"#c4c4c4","strokeWidth":1},
"encoding":{"x":{"datum":20.5,"type":"quantitative","scale":{"domain":[0,600],"nice":false},"axis":null},"x2":{"datum":347.9},
"y":{"datum":0.00019,"type":"quantitative","scale":{"domain":[0,0.007],"range":[390,11],"nice":false},"axis":null},"y2":{"datum":0.002813}}},
{"data":{"name":"vol"},"mark":{"type":"line","strokeWidth":1.5,"point":{"filled":true,"size":6}},
"encoding":{
"x":{"field":"d","type":"quantitative","scale":{"domain":[0,600],"nice":false},"axis":{"title":"Diameter [nm]","orient":"bottom","titlePadding":2,"values":[0,100,200,300,400,500,600]}},
"y":{"field":"v","type":"quantitative","scale":{"domain":[0,0.007],"range":[390,11],"nice":false},"axis":{"title":"Volume fraction [nm⁻¹]","orient":"left","labelPadding":1.5,"values":[0,0.001,0.002,0.003,0.004,0.005,0.006,0.007],"format":".3f"}},
"color":{"field":"s","type":"nominal","scale":{"domain":["P0","P1","P2","P3","P4","FC"],"range":["#1f77b4","#ff7f0e","#2ca02c","#d62728","#9467bd","#1a1a1a"]},
"legend":{"title":null,"orient":"none","legendX":345,"legendY":18,"padding":5,"fillColor":"#ffffff","strokeColor":"#d0d0d0","cornerRadius":3,"labelFontSize":14.5,"labelColor":"#262626","symbolType":"M-1,0H3M0.8,0A0.2,0.2,0,1,1,1.2,0A0.2,0.2,0,1,1,0.8,0","symbolSize":225,"symbolStrokeWidth":1.5,"labelOffset":27,"rowPadding":6.5,"labelLimit":300,
"labelExpr":"datum.label == 'FC' ? 'FC' : 'FC+HPT Pos ' + substring(datum.label, 1)"}}}},
{"data":{"values":[{}]},"mark":{"type":"rect","fill":"#ffffff","stroke":"#333","strokeWidth":1},
"encoding":{"x":{"datum":0.2,"type":"quantitative","scale":{"domain":[0.2,20.5],"range":[219.7,295.7],"nice":false,"zero":false},"axis":null},"x2":{"datum":20.5},
"y":{"datum":0.00019,"type":"quantitative","scale":{"domain":[0.00019,0.00503],"range":[237.7,49],"nice":false,"zero":false},"axis":null},"y2":{"datum":0.00503}}},
{"data":{"name":"vol"},"transform":[{"filter":"datum.d <= 20"}],"mark":{"type":"line","strokeWidth":1.5,"point":{"filled":true,"size":6}},
"encoding":{
"x":{"field":"d","type":"quantitative","scale":{"domain":[0.2,20.5],"range":[219.7,295.7],"nice":false,"zero":false},"axis":{"title":null,"orient":"bottom","offset":-152.3,"values":[10,20],"labelFontSize":11,"labelPadding":2}},
"y":{"field":"v","type":"quantitative","scale":{"domain":[0.00019,0.00503],"range":[237.7,49],"nice":false,"zero":false},"axis":{"title":null,"orient":"left","offset":-219.7,"values":[0.001,0.002,0.003,0.004,0.005],"format":".3f","labelFontSize":11,"labelPadding":2}},
"color":{"field":"s","type":"nominal","scale":{"domain":["P0","P1","P2","P3","P4","FC"],"range":["#1f77b4","#ff7f0e","#2ca02c","#d62728","#9467bd","#1a1a1a"]},"legend":null}}}
],
"resolve":{"scale":{"x":"independent","y":"independent"}}
}
]
}
